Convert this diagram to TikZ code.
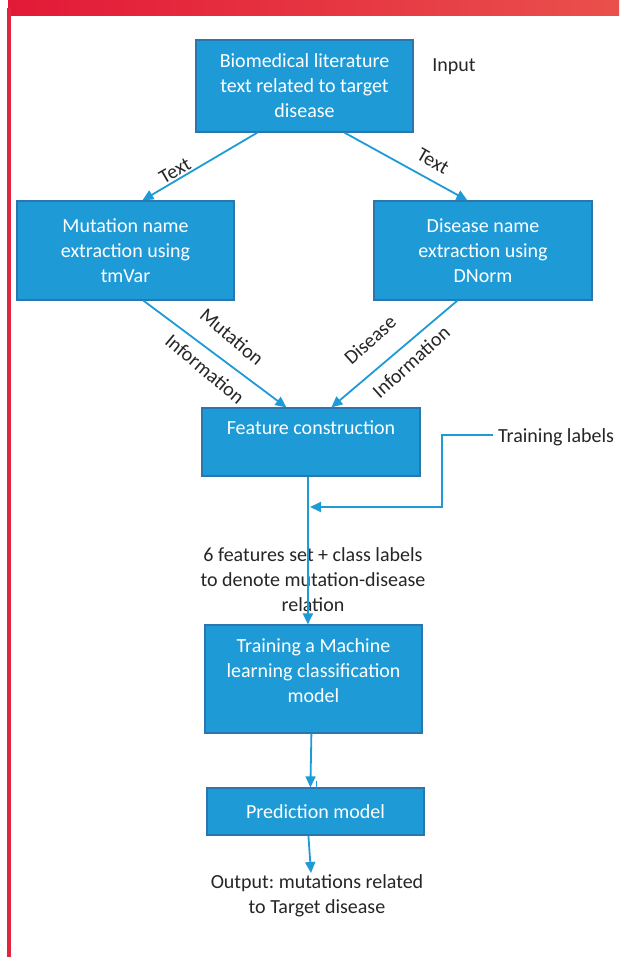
\documentclass[tikz,border=0pt]{standalone}
\usepackage{fontspec}
\setmainfont{Carlito}
\usetikzlibrary{arrows.meta,calc}
\definecolor{boxblue}{HTML}{1E9BD7}
\definecolor{boxedge}{HTML}{2C76AE}
\definecolor{linkblue}{HTML}{1E9BD7}
\definecolor{bandL}{HTML}{E31937}
\definecolor{bandR}{HTML}{E9504C}
\definecolor{borderred}{HTML}{E2253F}
\definecolor{txt}{HTML}{262626}
\frenchspacing
\begin{document}
\begin{tikzpicture}[x=1pt,y=-1pt,
  box/.style={draw=boxedge,line width=1.2pt,fill=boxblue,text=white,align=center,inner sep=0pt,font=\fontsize{20}{25}\selectfont},
  boxtext/.style={text=white,align=center,inner sep=0pt,font=\fontsize{20}{25}\selectfont},
  lab/.style={text=txt,align=center,inner sep=0pt,font=\fontsize{20}{25}\selectfont},
  link/.style={draw=linkblue,line width=1.8pt,-{Triangle[length=11pt,width=10pt]}},
]
\useasboundingbox (0,0) rectangle (619,957);
\fill[white] (0,0) rectangle (619,957);
% red frame
\shade[left color=bandL,right color=bandR] (8,0) rectangle (619,16);
\fill[borderred] (7,8) rectangle (11,957);

% boxes
\node[box,minimum width=217pt,minimum height=92pt] (b1) at (304.5,86)
  {Biomedical literature\\text related to target\\disease};
\node[box,minimum width=217pt,minimum height=99pt] (b2) at (125.5,250.5)
  {Mutation name\\extraction using\\tmVar};
\node[box,minimum width=218pt,minimum height=99pt] (b3) at (483,250.5)
  {Disease name\\extraction using\\DNorm};
\node[box,minimum width=218pt,minimum height=68pt] (b4) at (311,442) {};
\node[boxtext] (b4t) at (311,428) {Feature construction};
\node[box,minimum width=217pt,minimum height=108pt] (b5) at (313.5,679) {};
\node[boxtext] (b5t) at (313.5,671) {Training a Machine\\learning classification\\model};
\node[box,minimum width=217pt,minimum height=47pt] (b6) at (315.5,811.5) {Prediction model};

% plain labels
\node[lab] (inp) at (454,67) {Input};
\node[lab,anchor=west] (tl) at (498,437) {Training labels};
\node[lab] (feat) at (313,580) {6 features set + class labels\\to denote mutation-disease\\relation};
\node[lab] (out) at (317,896) {Output: mutations related\\to Target disease};

% edge labels
\node[lab,rotate=30] (t1) at (175,171) {Text};
\node[lab,rotate=-30] (t2) at (433,161) {Text};
\node[lab,rotate=-40] (m1) at (232,337) {Mutation};
\node[lab,rotate=-40] (m2) at (205,369) {Information};
\node[lab,rotate=42] (d1) at (370,340) {Disease};
\node[lab,rotate=42] (d2) at (411,362) {Information};

% attach points
\coordinate (a1s) at ($(b1.south west)+(62,0)$);
\coordinate (a2s) at ($(b1.south west)+(149,0)$);
\coordinate (a1e) at ($(b2.north west)+(126,0)$);
\coordinate (a2e) at ($(b3.north west)+(94,0)$);
\coordinate (a3s) at ($(b2.south west)+(127,0)$);
\coordinate (a4s) at ($(b3.south west)+(84,0)$);
\coordinate (a3e) at ($(b4.north west)+(85,0)$);
\coordinate (a4e) at ($(b4.north west)+(130,0)$);
\coordinate (a5s) at ($(b4.south west)+(106.5,0)$);
\coordinate (a5e) at ($(b5.north west)+(103.5,0)$);
\coordinate (a6s) at ($(b5.south west)+(107,0)$);
\coordinate (a6e) at ($(b6.north west)+(104,0)$);
\coordinate (a7s) at ($(b6.south west)+(102,0)$);
\coordinate (a7e) at (311,873);
\coordinate (bend) at (442,507);
\coordinate (merge) at (310,507);
\coordinate (ticka) at (316.5,781);
\coordinate (tickb) at (316.5,788);

% connectors
\draw[link] (a1s) -- (a1e);
\draw[link] (a2s) -- (a2e);
\draw[link] (a3s) -- (a3e);
\draw[link] (a4s) -- (a4e);
\draw[link] (a5s) -- (a5e);
\draw[link] ([xshift=-5pt,yshift=2pt]tl.west) -| (bend) -- (merge);
\draw[link] (a6s) -- (a6e);
\draw[linkblue,line width=0.8pt] (ticka) -- (tickb);
\draw[link] (a7s) -- (a7e);
\end{tikzpicture}
\end{document}
